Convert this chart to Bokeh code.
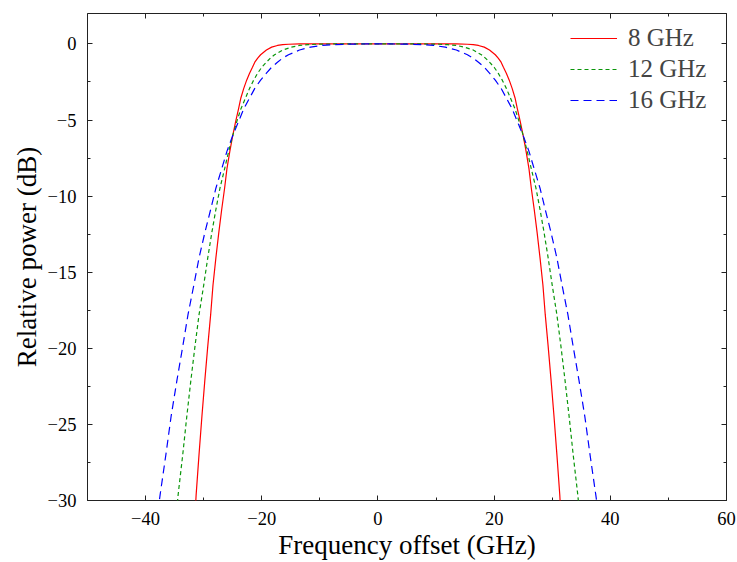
from bokeh.plotting import figure
from bokeh.models import (Range1d, LinearAxis, SingleIntervalTicker, Legend, LegendItem,
                          CustomJSTickFormatter)
from bokeh.embed import file_html
from bokeh.resources import INLINE

# Series labels and styles
labels = ["8 GHz", "12 GHz", "16 GHz"]
colors = ["#ff0000", "#0a960a", "#0000ff"]
dashes = ["solid", "4 3", "8 5"]

# Frequency offsets (GHz), one list per curve
freq_8 = [-31.7, -31.3, -30.8, -30.3, -29.8, -29.3, -28.8, -28.4, -27.9, -27.4,
          -26.9, -26.4, -26.0, -25.5, -25.0, -24.5, -24.0, -23.6, -23.1, -22.6,
          -22.1, -21.6, -21.2, -20.7, -20.2, -19.2, -18.3, -17.3, -16.4, -15.4,
          -13.5, 0.0, 13.5, 15.4, 16.4, 17.3, 18.3, 19.2, 20.2, 20.7,
          21.2, 21.6, 22.1, 22.6, 23.1, 23.6, 24.0, 24.5, 25.0, 25.5,
          26.0, 26.4, 26.9, 27.4, 27.9, 28.4, 28.8, 29.3, 29.8, 30.3,
          30.8, 31.3, 31.7]
freq_12 = [-35.1, -34.4, -33.6, -32.9, -32.2, -31.5, -30.8, -30.0, -29.3, -28.6,
           -27.9, -27.2, -26.4, -25.7, -25.0, -24.3, -23.6, -22.8, -22.1, -21.4,
           -20.7, -20.0, -19.2, -18.5, -17.8, -16.4, -14.9, -13.5, -12.0, -10.6,
           -7.7, 0.0, 7.7, 10.6, 12.0, 13.5, 14.9, 16.4, 17.8, 18.5,
           19.2, 20.0, 20.7, 21.4, 22.1, 22.8, 23.6, 24.3, 25.0, 25.7,
           26.4, 27.2, 27.9, 28.6, 29.3, 30.0, 30.8, 31.5, 32.2, 32.9,
           33.6, 34.4, 35.1]
freq_16 = [-38.5, -37.5, -36.5, -35.6, -34.6, -33.6, -32.7, -31.7, -30.8, -29.8,
           -28.8, -27.9, -26.9, -26.0, -25.0, -24.0, -23.1, -22.1, -21.2, -20.2,
           -19.2, -18.3, -17.3, -16.4, -15.4, -13.5, -11.6, -9.6, -7.7, -5.8,
           -1.9, 0.0, 1.9, 5.8, 7.7, 9.6, 11.6, 13.5, 15.4, 16.4,
           17.3, 18.3, 19.2, 20.2, 21.2, 22.1, 23.1, 24.0, 25.0, 26.0,
           26.9, 27.9, 28.8, 29.8, 30.8, 31.7, 32.7, 33.6, 34.6, 35.6,
           36.5, 37.5, 38.5]

# Relative power levels (dB) at which each curve was read
power_db = [-32.45, -29.63, -26.97, -24.45, -22.09, -19.87, -17.79, -15.86, -14.06, -12.40,
            -10.88, -9.48, -8.21, -7.06, -6.02, -5.10, -4.27, -3.55, -2.92, -2.38,
            -1.92, -1.53, -1.20, -0.93, -0.71, -0.40, -0.21, -0.10, -0.05, -0.02,
            0.00, 0.00, 0.00, -0.02, -0.05, -0.10, -0.21, -0.40, -0.71, -0.93,
            -1.20, -1.53, -1.92, -2.38, -2.92, -3.55, -4.27, -5.10, -6.02, -7.06,
            -8.21, -9.48, -10.88, -12.40, -14.06, -15.86, -17.79, -19.87, -22.09, -24.45,
            -26.97, -29.63, -32.45]

x_ticks_interval = 20
y_ticks_interval = 5

FONT = "Liberation Serif"

p = figure(width=736, height=562, output_backend="svg", toolbar_location=None,
           x_range=Range1d(-50, 60), y_range=Range1d(-30, 2),
           min_border_left=87, min_border_right=10, min_border_top=13, min_border_bottom=60,
           background_fill_color="white", border_fill_color="white")
p.grid.visible = False
p.outline_line_color = "#222222"
p.outline_line_width = 1

renderers = []
for xs, col, dash in zip([freq_8, freq_12, freq_16], colors, dashes):
    r = p.line(xs, power_db, line_color=col, line_width=1.2, line_dash=dash)
    renderers.append(r)

xt = SingleIntervalTicker(interval=x_ticks_interval, num_minor_ticks=2)
yt = SingleIntervalTicker(interval=y_ticks_interval, num_minor_ticks=2)
p.xaxis.ticker = xt
p.yaxis.ticker = yt

def style_axis(ax, show_labels=True):
    ax.axis_line_color = None
    ax.major_tick_in = 5
    ax.major_tick_out = 0
    ax.minor_tick_in = 3
    ax.minor_tick_out = 0
    ax.major_tick_line_color = "#222222"
    ax.minor_tick_line_color = "#222222"
    ax.major_label_text_font = FONT
    ax.major_label_text_color = "black"
    ax.axis_label_text_font = FONT
    ax.axis_label_text_font_style = "normal"
    ax.axis_label_text_color = "black"
    ax.major_label_text_font_size = "18.5px"
    ax.axis_label_text_font_size = "27px"
    if not show_labels:
        ax.formatter = CustomJSTickFormatter(code="return ''")
        ax.major_label_standoff = 0

style_axis(p.xaxis[0])
style_axis(p.yaxis[0])
p.xaxis.axis_label = "Frequency offset (GHz)"
p.yaxis.axis_label = "Relative power (dB)"
p.xaxis.major_label_standoff = 11
p.xaxis.axis_label_standoff = 2
p.yaxis.major_label_standoff = 11
p.yaxis.axis_label_standoff = 3

top_ax = LinearAxis(ticker=SingleIntervalTicker(interval=x_ticks_interval, num_minor_ticks=2))
right_ax = LinearAxis(ticker=SingleIntervalTicker(interval=y_ticks_interval, num_minor_ticks=2))
style_axis(top_ax, False)
style_axis(right_ax, False)
p.add_layout(top_ax, "above")
p.add_layout(right_ax, "right")

lg = Legend(items=[LegendItem(label=lab, renderers=[r]) for lab, r in zip(labels, renderers)])
lg.border_line_color = None
lg.background_fill_alpha = 0
lg.label_text_font = FONT
lg.label_text_font_size = "25px"
lg.glyph_width = 47
lg.glyph_height = 26
lg.label_height = 26
lg.label_standoff = 11
lg.spacing = 3
lg.padding = 0
lg.margin = 0
lg.location = (483, 386)
p.add_layout(lg, "center")

open("out.html", "w").write(file_html(p, INLINE))
